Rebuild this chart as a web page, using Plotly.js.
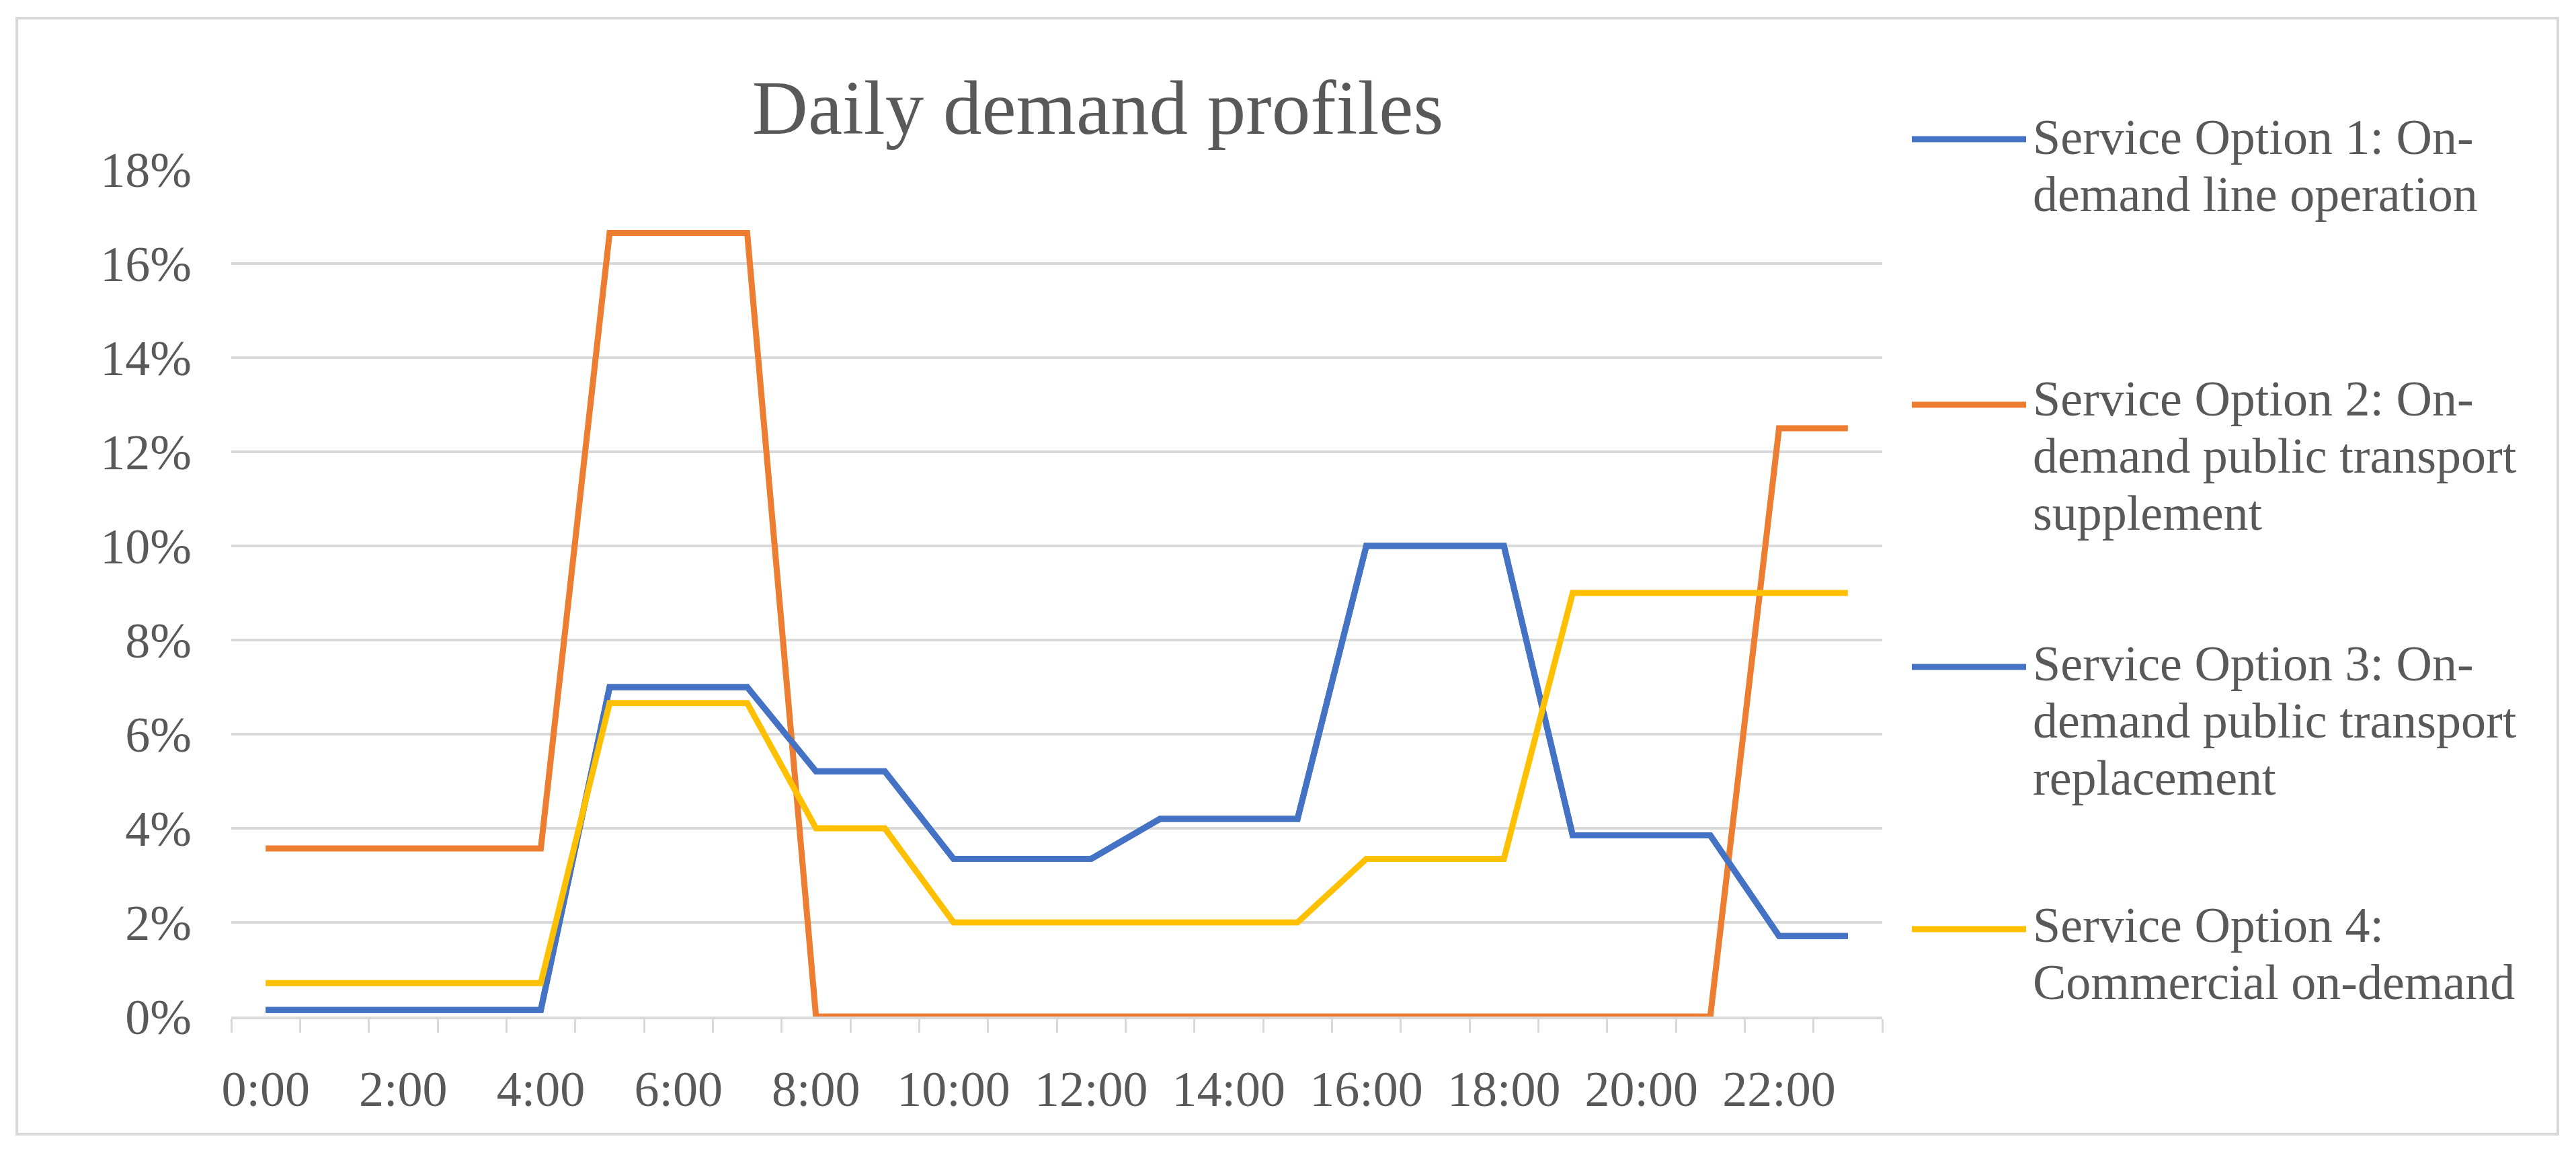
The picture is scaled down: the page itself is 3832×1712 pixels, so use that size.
<!DOCTYPE html>
<html>
<head>
<meta charset="utf-8">
<script src="https://cdn.plot.ly/plotly-3.0.1.min.js"></script>
<style>
  html, body { margin: 0; padding: 0; background: #ffffff; }
  #chart { width: 3832px; height: 1712px; }
</style>
</head>
<body>
<div id="chart"></div>
<script>
// ---- Data ----
const chartTitle = "Daily demand profiles";
const hours = ["0:00","1:00","2:00","3:00","4:00","5:00","6:00","7:00","8:00","9:00","10:00","11:00",
               "12:00","13:00","14:00","15:00","16:00","17:00","18:00","19:00","20:00","21:00","22:00","23:00"];
const tickLabels = ["0:00","2:00","4:00","6:00","8:00","10:00","12:00","14:00","16:00","18:00","20:00","22:00"];
const yTicks = [0, 2, 4, 6, 8, 10, 12, 14, 16, 18];

const seriesNames = [
  "Service Option 1: On-<br>demand line operation",
  "Service Option 2: On-<br>demand public transport<br>supplement",
  "Service Option 3: On-<br>demand public transport<br>replacement",
  "Service Option 4:<br>Commercial on-demand"
];
const option1 = [0.14,0.14,0.14,0.14,0.14,7.0,7.0,7.0,5.21,5.21,3.35,3.35,3.35,4.2,4.2,4.2,10.0,10.0,10.0,3.85,3.85,3.85,1.71,1.71];
const option2 = [3.57,3.57,3.57,3.57,3.57,16.65,16.65,16.65,0,0,0,0,0,0,0,0,0,0,0,0,0,0,12.5,12.5];
const option3 = [0.14,0.14,0.14,0.14,0.14,7.0,7.0,7.0,5.21,5.21,3.35,3.35,3.35,4.2,4.2,4.2,10.0,10.0,10.0,3.85,3.85,3.85,1.71,1.71];
const option4 = [0.71,0.71,0.71,0.71,0.71,6.66,6.66,6.66,4.0,4.0,2.0,2.0,2.0,2.0,2.0,2.0,3.35,3.35,3.35,9.0,9.0,9.0,9.0,9.0];
const seriesColors = ["#4472C4", "#ED7D31", "#4472C4", "#FFC000"];

// ---- Layout geometry (pixels) ----
const W = 3832, H = 1712;
const plotL = 344, plotR = 2800, plotT = 252, plotB = 1512;
const px2x = p => (p - plotL) / (plotR - plotL);
const py2y = p => (plotB - p) / (plotB - plotT);

const FONT = "'Liberation Serif', 'Times New Roman', serif";
const TXT = "#595959";
const GRID = "#D9D9D9";

const xIdx = hours.map((h, i) => i);
const allSeries = [option1, option2, option3, option4];

const traces = allSeries.map((vals, k) => ({
  type: "scatter",
  mode: "lines",
  x: xIdx,
  y: vals,
  name: seriesNames[k].replace(/<br>/g, " "),
  line: { color: seriesColors[k], width: 9 },
  hoverinfo: "skip",
  showlegend: false
}));

// Manual legend (long line samples like the original)
const legendSampleY = [207, 602, 992, 1382];
const legendFirstBaseline = [229, 618, 1012, 1401];
const legendLineGap = 85;
const shapes = [];
const annotations = [];

// chart border
shapes.push({
  type: "rect", xref: "paper", yref: "paper",
  x0: px2x(25), x1: px2x(3805), y0: py2y(1687), y1: py2y(27),
  line: { color: GRID, width: 4 }, fillcolor: "rgba(0,0,0,0)", layer: "below"
});

seriesNames.forEach((nm, k) => {
  shapes.push({
    type: "line", xref: "paper", yref: "paper",
    x0: px2x(2844), x1: px2x(3014), y0: py2y(legendSampleY[k]), y1: py2y(legendSampleY[k]),
    line: { color: seriesColors[k], width: 9 }
  });
  nm.split("<br>").forEach((ln, j) => {
    const base = legendFirstBaseline[k] + j * legendLineGap;
    annotations.push({
      xref: "paper", yref: "paper",
      x: px2x(3022), y: py2y(base - 25),
      xanchor: "left", yanchor: "middle",
      text: ln, showarrow: false,
      font: { family: FONT, size: 74, color: TXT }
    });
  });
});

const layout = {
  width: W, height: H,
  margin: { l: plotL, r: W - plotR, t: plotT, b: H - plotB, pad: 0 },
  paper_bgcolor: "#ffffff",
  plot_bgcolor: "#ffffff",
  showlegend: false,
  title: {
    text: chartTitle,
    font: { family: FONT, size: 115, color: TXT },
    xref: "container", yref: "container",
    x: 1633 / W, xanchor: "center",
    y: 1 - 159 / H, yanchor: "middle"
  },
  xaxis: {
    type: "linear",
    range: [-0.5, hours.length - 0.5],
    tickmode: "array",
    tickvals: tickLabels.map(t => hours.indexOf(t)),
    ticktext: tickLabels,
    ticks: "",
    showgrid: false,
    zeroline: false,
    showline: true,
    linecolor: GRID,
    linewidth: 4,
    ticklabelstandoff: 40,
    tickfont: { family: FONT, size: 74, color: TXT },
    minor: {
      ticks: "outside",
      tickmode: "linear",
      tick0: -0.5,
      dtick: 1,
      ticklen: 20,
      tickwidth: 3,
      tickcolor: GRID,
      showgrid: false
    },
    fixedrange: true
  },
  yaxis: {
    range: [0, 18],
    tickmode: "array",
    tickvals: yTicks,
    ticktext: yTicks.map(v => v + "%"),
    ticks: "",
    showgrid: true,
    gridcolor: GRID,
    gridwidth: 4,
    zeroline: false,
    showline: false,
    ticklabelstandoff: 58,
    tickfont: { family: FONT, size: 74, color: TXT },
    fixedrange: true
  },
  shapes: shapes,
  annotations: annotations
};

Plotly.newPlot("chart", traces, layout, { staticPlot: true, displayModeBar: false });
</script>
</body>
</html>
